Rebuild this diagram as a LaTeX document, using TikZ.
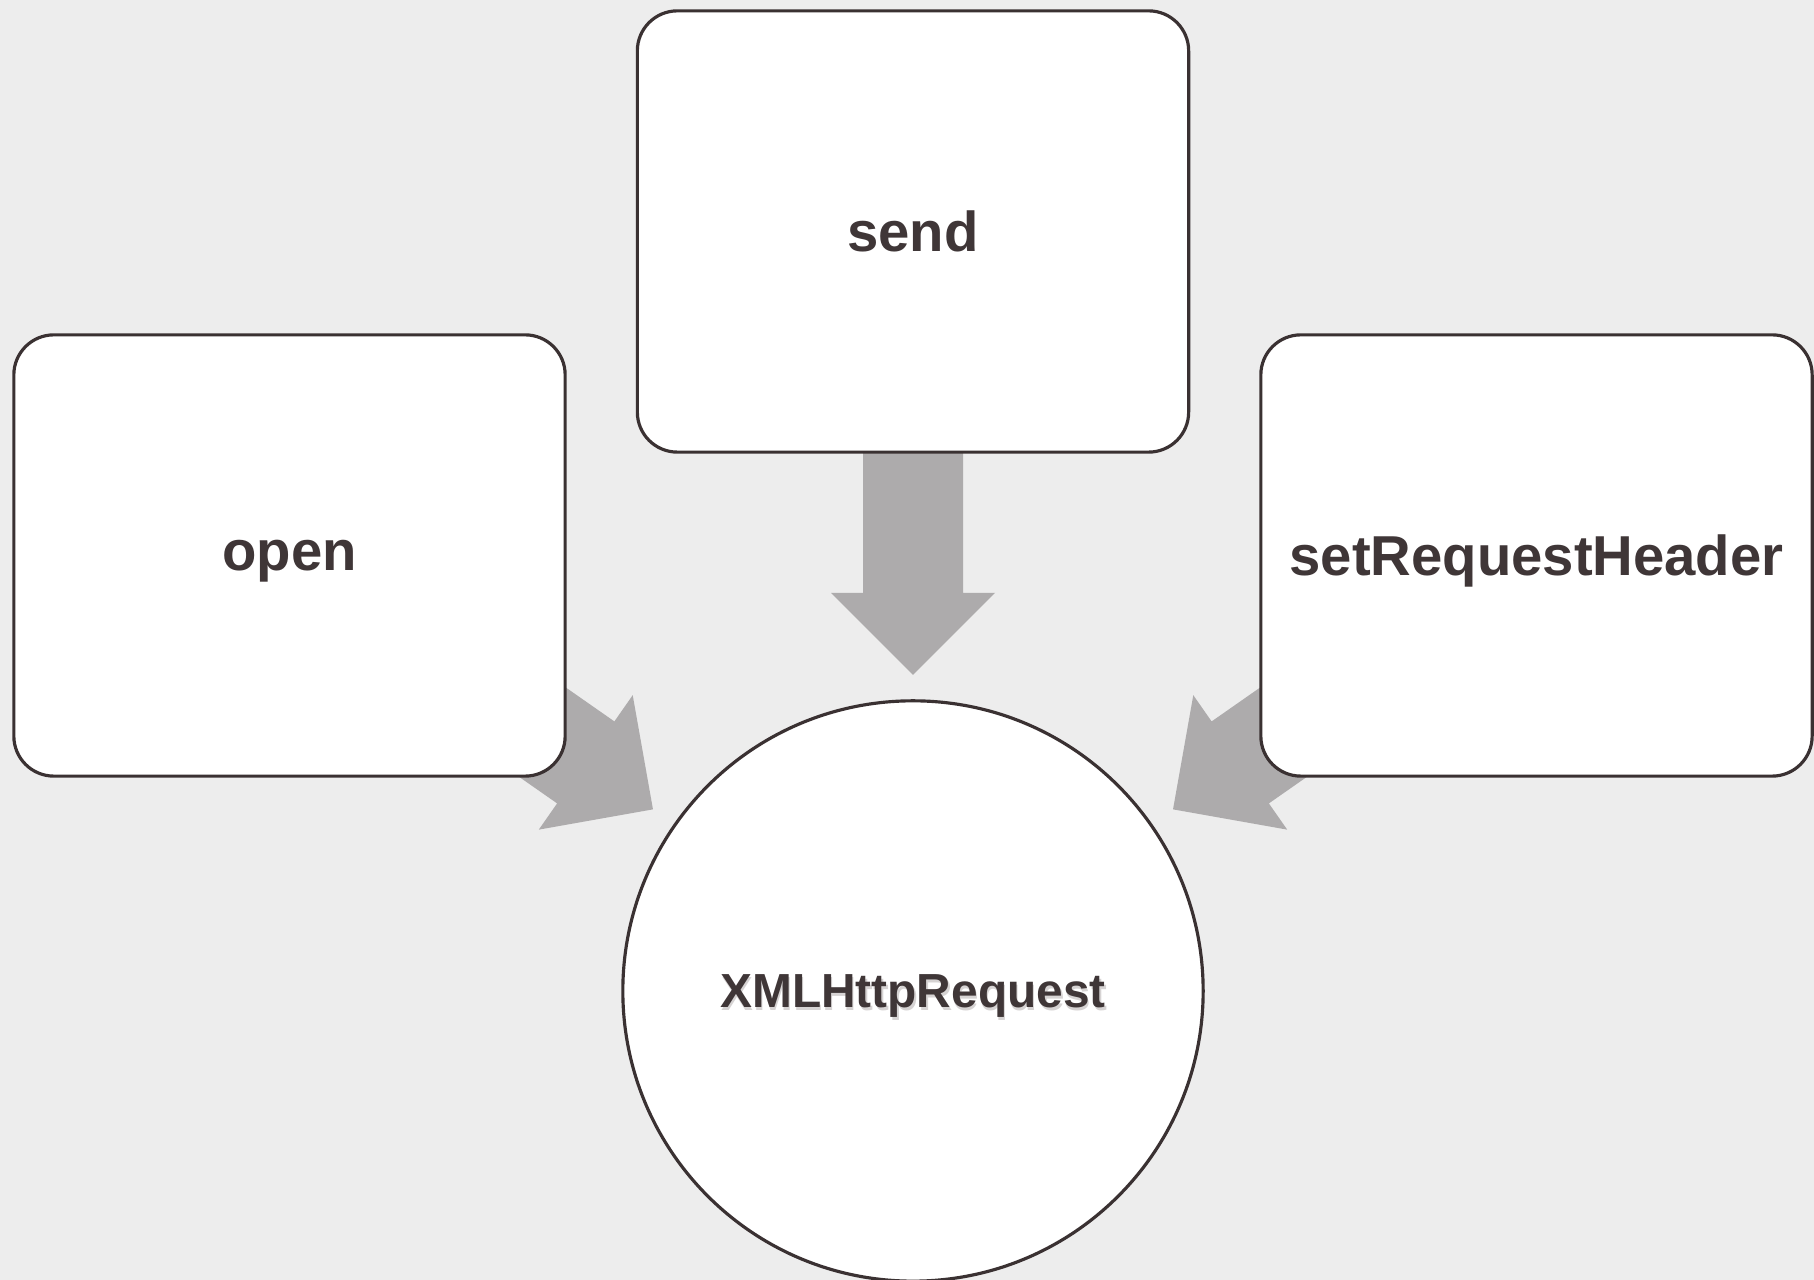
\documentclass[tikz,border=0pt]{standalone}
\usepackage{fontspec}
\setmainfont{Liberation Sans}
\usetikzlibrary{calc}
\definecolor{paper}{HTML}{EDEDED}
\definecolor{edge}{HTML}{3A3132}
\definecolor{arrowfill}{HTML}{ADABAC}
\definecolor{labeltext}{HTML}{3F3637}
\definecolor{labelshade}{HTML}{D6D3D3}
\pgfdeclarelayer{bg}
\pgfsetlayers{bg,main}

% block arrow pointing from node #1 towards node #2, tip #3 away from the centre of #2
\newcommand\flowarrow[3]{%
  \path let \p1=($(#2.center)-(#1.center)$), \n1={atan2(\y1,\x1)} in
    \pgfextra{\xdef\arrowangle{\n1}};
  \coordinate (#1-tip) at ($(#2.center)!#3!(#1.center)$);
  \begin{pgfonlayer}{bg}
    \begin{scope}[shift={(#1-tip)}, rotate=\arrowangle]
      \fill[arrowfill] (0,0) -- (-82,82) -- (-82,50) -- (-250,50)
        -- (-250,-50) -- (-82,-50) -- (-82,-82) -- cycle;
    \end{scope}
  \end{pgfonlayer}%
}

\begin{document}
\begin{tikzpicture}[x=0.01cm, y=-0.01cm,
  method/.style={draw=edge, line width=0.9pt, fill=white, rounded corners=0.4cm,
    minimum width=5.51cm, minimum height=4.41cm, inner sep=0pt, text depth=0pt,
    font=\bfseries\fontsize{16pt}{19pt}\selectfont, text=labeltext},
  core/.style={circle, draw=edge, line width=0.9pt, fill=white,
    minimum size=5.8cm, inner sep=0pt},
  corelabel/.style={inner sep=0pt, text depth=0pt,
    font=\bfseries\fontsize{13.6pt}{16pt}\selectfont}]

\begin{pgfonlayer}{bg}
  \fill[paper] (0,0) rectangle (1814,1280);
\end{pgfonlayer}
\useasboundingbox (0,0) rectangle (1814,1280);

% central object
\node[core] (xhr) at (913,991) {};
\node[corelabel, text=labelshade] (xhrshade) at ($(xhr.center)+(1.5,3)$) {XMLHttpRequest};
\node[corelabel, text=labeltext] (xhrtext) at (xhr.center) {XMLHttpRequest};

% methods
\node[method] (send) at (913,231.5) {send};
\node[method] (open) at (289.5,555.5) {open};
\node[method] (header) at (1536.5,555.5) {setRequestHeader};

% arrows into the central object
\flowarrow{send}{xhr}{3.16cm}
\flowarrow{open}{xhr}{3.17cm}
\flowarrow{header}{xhr}{3.17cm}
\end{tikzpicture}
\end{document}
